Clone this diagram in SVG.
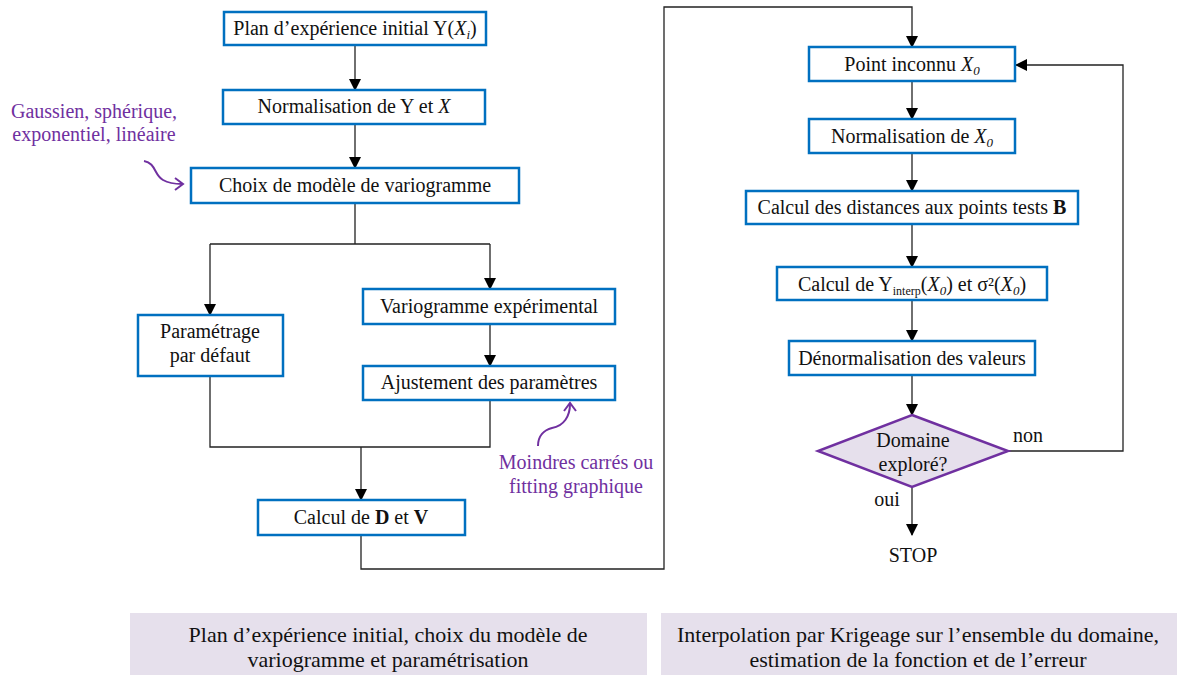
<svg xmlns="http://www.w3.org/2000/svg" width="1177" height="675" viewBox="0 0 1177 675">
<style>
.box{fill:#fff;stroke:#0070c0;stroke-width:2.5}
text{font-family:'Liberation Serif','DejaVu Serif',serif}
.t{font-size:20px;fill:#111;text-anchor:middle}
.p{font-size:20px;fill:#7030a0;text-anchor:middle}
.b{font-size:22px;fill:#111;text-anchor:middle}
.c{fill:none;stroke:#222;stroke-width:1.3}
.cu{fill:none;stroke:#7030a0;stroke-width:2}
.sum{fill:#e6e0ec}
</style>
<defs>
<marker id="ah" markerWidth="12" markerHeight="12" refX="11" refY="6" orient="auto" markerUnits="userSpaceOnUse">
<path d="M0,0 L12,6 L0,12 Z" fill="#000"/>
</marker>
</defs>
<rect width="1177" height="675" fill="#fff"/>

<g id="connectors">
<path class="c" d="M355,46 V90" marker-end="url(#ah)"/>
<path class="c" d="M355,124 V168" marker-end="url(#ah)"/>
<path class="c" d="M355,203 V244 M210,244 H490"/>
<path class="c" d="M210,244 V315" marker-end="url(#ah)"/>
<path class="c" d="M490,244 V289" marker-end="url(#ah)"/>
<path class="c" d="M490,324 V366" marker-end="url(#ah)"/>
<path class="c" d="M210,376 V447 H490 V400"/>
<path class="c" d="M361,447 V500" marker-end="url(#ah)"/>
<path class="c" d="M361,535 V569 H664 V7 H912 V47" marker-end="url(#ah)"/>
<path class="c" d="M912,81 V119" marker-end="url(#ah)"/>
<path class="c" d="M912,153 V191" marker-end="url(#ah)"/>
<path class="c" d="M912,224 V267" marker-end="url(#ah)"/>
<path class="c" d="M912,300 V341" marker-end="url(#ah)"/>
<path class="c" d="M912,375 V415" marker-end="url(#ah)"/>
<path class="c" d="M912,487 V535" marker-end="url(#ah)"/>
<path class="c" d="M1008,451 H1123 V65 H1016" marker-end="url(#ah)"/>
<text class="t" x="1028" y="442">non</text>
<text class="t" x="887" y="506">oui</text>
</g>

<g id="n1"><rect class="box" x="224" y="12" width="262" height="33"/>
<text class="t" x="355" y="35">Plan d’expérience initial Y(<tspan font-style="italic">X</tspan><tspan font-style="italic" font-size="13" dy="4">i</tspan><tspan dy="-4">)</tspan></text></g>

<g id="n2"><rect class="box" x="223" y="90" width="262" height="34"/>
<text class="t" x="354" y="113">Normalisation de  Y et <tspan font-style="italic">X</tspan></text></g>

<g id="n3"><rect class="box" x="191" y="168" width="328" height="35"/>
<text class="t" x="355" y="192">Choix de modèle de variogramme</text></g>

<g id="ann1">
<text class="p" x="94" y="118">Gaussien, sphérique,</text>
<text class="p" x="94" y="141">exponentiel, linéaire</text>
<path class="cu" d="M144,161 C156,163 154,175 163,180 C170,184 176,184 182,184"/>
<path class="cu" d="M175,178 L183,184 L175,190"/>
</g>

<g id="n4"><rect class="box" x="138" y="315" width="145" height="61"/>
<text class="t" x="210" y="338">Paramétrage</text>
<text class="t" x="210" y="362">par défaut</text></g>

<g id="n5"><rect class="box" x="363" y="289" width="252" height="35"/>
<text class="t" x="489" y="313">Variogramme expérimental</text></g>

<g id="n6"><rect class="box" x="363" y="366" width="252" height="34"/>
<text class="t" x="489" y="389">Ajustement des paramètres</text></g>

<g id="ann2">
<text class="p" x="576" y="469">Moindres carrés ou</text>
<text class="p" x="576" y="493">fitting graphique</text>
<path class="cu" d="M538,446 C538,436 544,430 552,428 C564,426 570,416 570,404"/>
<path class="cu" d="M564,411 L570,403 L576,411"/>
</g>

<g id="n7"><rect class="box" x="258" y="500" width="207" height="35"/>
<text class="t" x="361" y="524">Calcul de <tspan font-weight="bold">D</tspan> et <tspan font-weight="bold">V</tspan></text></g>

<g id="n8"><rect class="box" x="809" y="47" width="206" height="34"/>
<text class="t" x="912" y="71">Point inconnu  <tspan font-style="italic">X</tspan><tspan font-style="italic" font-size="13" dy="4">0</tspan></text></g>

<g id="n9"><rect class="box" x="809" y="119" width="206" height="34"/>
<text class="t" x="912" y="143">Normalisation de  <tspan font-style="italic">X</tspan><tspan font-style="italic" font-size="13" dy="4">0</tspan></text></g>

<g id="n10"><rect class="box" x="746" y="191" width="332" height="33"/>
<text class="t" x="912" y="214">Calcul des distances aux points tests <tspan font-weight="bold">B</tspan></text></g>

<g id="n11"><rect class="box" x="777" y="267" width="270" height="33"/>
<text class="t" x="912" y="291">Calcul de Y<tspan font-size="12" dy="4">interp</tspan><tspan dy="-4">(</tspan><tspan font-style="italic">X</tspan><tspan font-style="italic" font-size="13" dy="4">0</tspan><tspan dy="-4">) et σ²(</tspan><tspan font-style="italic">X</tspan><tspan font-style="italic" font-size="13" dy="4">0</tspan><tspan dy="-4">)</tspan></text></g>

<g id="n12"><rect class="box" x="789" y="341" width="246" height="34"/>
<text class="t" x="912" y="365">Dénormalisation des valeurs</text></g>

<g id="n13"><path d="M912,415 L1008,451 L912,487 L818,451 Z" fill="#e6e0ec" stroke="#7030a0" stroke-width="2.5"/>
<text class="t" x="913" y="447">Domaine</text>
<text class="t" x="913" y="471">exploré?</text></g>

<g id="n14"><text class="t" x="913" y="562">STOP</text></g>

<g id="sum1"><rect class="sum" x="130" y="613" width="517" height="62"/>
<text class="b" x="388" y="642">Plan d’expérience initial, choix du modèle de</text>
<text class="b" x="388" y="667">variogramme et paramétrisation</text></g>

<g id="sum2"><rect class="sum" x="661" y="613" width="516" height="62"/>
<text class="b" x="918" y="642">Interpolation par Krigeage sur l’ensemble du domaine,</text>
<text class="b" x="918" y="667">estimation de la fonction et de l’erreur</text></g>
</svg>
